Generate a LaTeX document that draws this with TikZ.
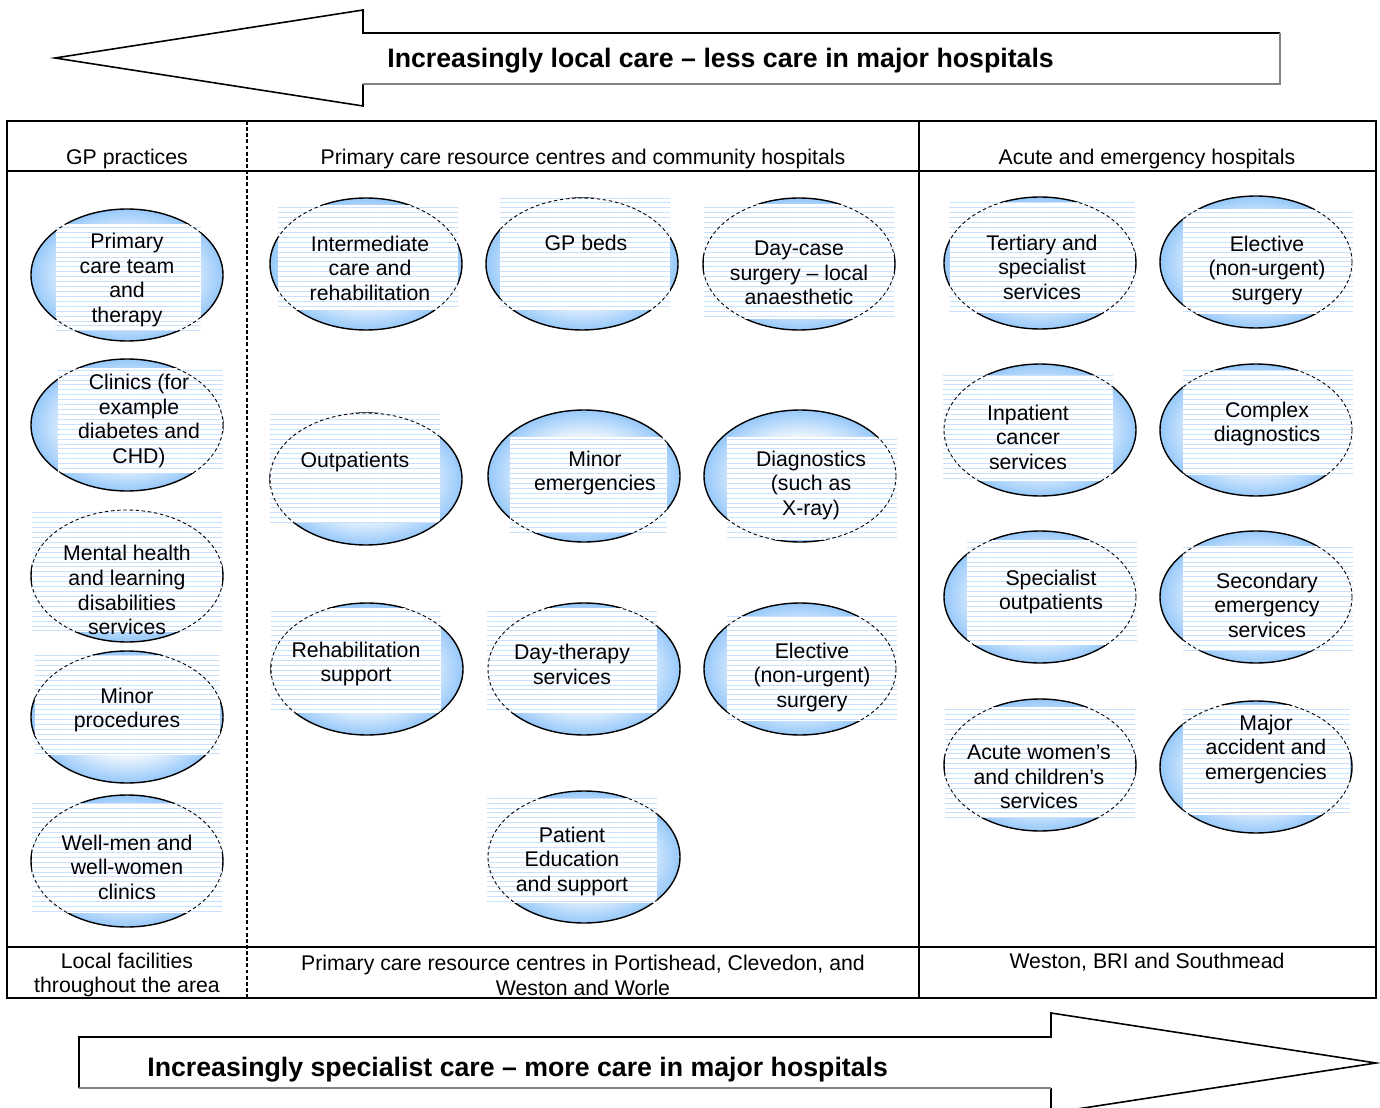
\documentclass[tikz,border=0pt]{standalone}
\usepackage{fontspec}
\setmainfont{Liberation Sans}
\usepackage{tikz}
\usetikzlibrary{patterns.meta}

\definecolor{bubbleblue}{RGB}{150,200,250}
\definecolor{stripeblue}{RGB}{200,224,252}
\definecolor{shadowgrey}{RGB}{130,130,130}
\pgfdeclareradialshading{bubbleshade}{\pgfpoint{0bp}{0bp}}{color(0bp)=(white); color(13bp)=(white); color(25bp)=(bubbleblue); color(50bp)=(bubbleblue)}

% one service bubble: name, ellipse centre, box centre, box width, box height, text centre, text
\newcommand{\service}[7]{%
  \path[bubble] (#2) ellipse [x radius=96, y radius=66];
  \node[stripebox, minimum width=#4*0.02cm, minimum height=#5*0.02cm] (#1box) at (#3) {};
  \begin{scope}
    \clip (#1box.south west) rectangle (#1box.north east);
    \draw[bubbledash] (#2) ellipse [x radius=96, y radius=66];
  \end{scope}
  \node[svctext] (#1) at (#6) {#7};
}

\begin{document}
\begin{tikzpicture}[x=0.02cm, y=-0.02cm,
    every node/.style={font=\fontsize{12.1}{14}\selectfont},
    frame/.style={line width=1.1pt},
    arrowline/.style={line width=0.9pt, line join=miter},
    shadowline/.style={line width=0.6pt, shadowgrey},
    bubble/.style={shading=bubbleshade, draw=black, line width=0.8pt},
    bubbledash/.style={draw=black, line width=0.5pt, dash pattern=on 2pt off 1.5pt},
    stripebox/.style={rectangle, inner sep=0pt, preaction={fill=white},
      pattern={Lines[angle=0, distance=2.8pt, line width=0.4pt]}, pattern color=stripeblue},
    svctext/.style={align=center, inner sep=0pt, yshift=-1.2pt},
    arrowtext/.style={font=\fontsize{15.2}{18}\selectfont\bfseries, anchor=west, inner sep=0pt, yshift=-0.8pt},
    celltext/.style={align=center, inner sep=0pt, yshift=-1.2pt}]

        \useasboundingbox (0,0) rectangle (1380,1108);

        %%% top arrow %%%
        \draw[arrowline] (1280,33) -- (363,33) -- (363,10) -- (55,58) -- (363,106) -- (363,84);
        \draw[shadowline] (363,84) -- (1280,84) -- (1280,33);
        \node[arrowtext] (localtext) at (387,59) {Increasingly local care – less care in major hospitals};

        %%% table %%%
        \draw[frame] (7,121) rectangle (1376,998);
        \draw[frame] (7,171) -- (1376,171) (7,947) -- (1376,947);
        \draw[frame] (919,121) -- (919,998);
        \draw[line width=1pt, dash pattern=on 2.2pt off 1.3pt] (247,121) -- (247,998);

        \node[celltext] (gphead) at (127,157) {GP practices};
        \node[celltext] (primhead) at (583,157) {Primary care resource centres and community hospitals};
        \node[celltext] (acutehead) at (1147,157) {Acute and emergency hospitals};

        \node[celltext] (gpfoot) at (127,973) {Local facilities\\throughout the area};
        \node[celltext] (primfoot) at (583,973) {Primary care resource centres in Portishead, Clevedon, and\\Weston and Worle};
        \node[celltext] (acutefoot) at (1147,960) {Weston, BRI and Southmead};

        %%% GP practices %%%
        \service{primary}{127,275}{128,278}{145}{107}{127,278}{Primary\\care team\\and\\therapy}
        \service{clinics}{127,425}{140,420}{165}{105}{139,419}{Clinics (for\\example\\diabetes and\\CHD)}
        \service{mental}{127,576}{127,570}{190}{124}{127,588}{Mental health\\and learning\\disabilities\\services}
        \service{minorproc}{127,717}{127,705}{185}{100}{127,708}{Minor\\procedures}
        \service{wellmen}{127,861}{127,858}{190}{110}{127,865}{Well-men and\\well-women\\clinics}

        %%% resource centres %%%
        \service{intermediate}{366,264}{368,258}{180}{105}{370,266}{Intermediate\\care and\\rehabilitation}
        \service{gpbeds}{582,264}{585,254}{170}{112}{586,241}{GP beds}
        \service{daycase}{799,264}{799,262}{190}{115}{799,271}{Day-case\\surgery – local\\anaesthetic}
        \service{outpatients}{366,479}{355,468}{170}{110}{355,460}{Outpatients}
        \service{minoremerg}{584,476}{588,485}{157}{96}{595,471}{Minor\\emergencies}
        \service{diagnostics}{800,476}{812,488}{170}{103}{811,483}{Diagnostics\\(such as\\X-ray)}
        \service{rehab}{367,669}{356,660}{170}{105}{356,662}{Rehabilitation\\support}
        \service{daytherapy}{584,669}{572,660}{170}{105}{572,662}{Day-therapy\\services}
        \service{elective}{800,669}{812,668}{170}{105}{812,675}{Elective\\(non-urgent)\\surgery}
        \service{patient}{584,857}{572,850}{170}{105}{572,859}{Patient\\Education\\and support}

        %%% acute hospitals %%%
        \service{tertiary}{1040,263}{1042,258}{185}{110}{1042,265}{Tertiary and\\specialist\\services}
        \service{electiveacute}{1256,262}{1268,262}{170}{105}{1267,268}{Elective\\(non-urgent)\\surgery}
        \service{inpatient}{1040,430}{1028,428}{170}{105}{1028,435}{Inpatient\\cancer\\services}
        \service{complex}{1256,430}{1268,422}{170}{105}{1267,422}{Complex\\diagnostics}
        \service{specout}{1040,597}{1052,592}{170}{105}{1051,590}{Specialist\\outpatients}
        \service{secondary}{1256,597}{1268,598}{170}{105}{1267,603}{Secondary\\emergency\\services}
        \service{acutewomen}{1040,765}{1040,762}{190}{110}{1039,775}{Acute women’s\\and children’s\\services}
        \service{major}{1256,767}{1266,760}{167}{110}{1266,747}{Major\\accident and\\emergencies}

        %%% bottom arrow %%%
        \draw[arrowline] (79,1088) -- (79,1037) -- (1051,1037) -- (1051,1013) -- (1376,1063) -- (1051,1113) -- (1051,1088);
        \draw[shadowline] (1051,1088) -- (79,1088);
        \node[arrowtext] (spectext) at (147,1068) {Increasingly specialist care – more care in major hospitals};

\end{tikzpicture}
\end{document}
